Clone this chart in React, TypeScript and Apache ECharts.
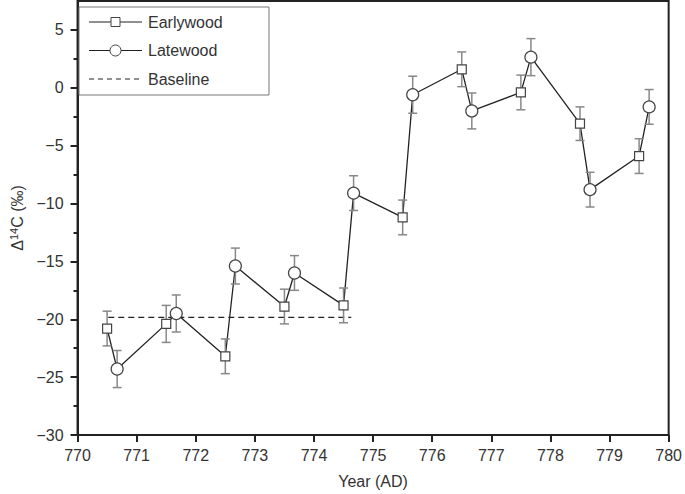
import React, { useEffect, useRef } from "react";
import * as echarts from "echarts";

const earlyYears = [770.5, 771.5, 772.5, 773.5, 774.5, 775.5, 776.5, 777.5, 778.5, 779.5];
const earlyValues = [-20.8, -20.4, -23.2, -18.9, -18.8, -11.2, 1.6, -0.4, -3.1, -5.9];
const earlyErrors = [1.5, 1.6, 1.5, 1.5, 1.5, 1.5, 1.5, 1.5, 1.45, 1.5];

const lateYears = [770.67, 771.67, 772.67, 773.67, 774.67, 775.67, 776.67, 777.67, 778.67, 779.67];
const lateValues = [-24.3, -19.5, -15.4, -16.0, -9.1, -0.6, -2.0, 2.65, -8.8, -1.65];
const lateErrors = [1.6, 1.6, 1.55, 1.5, 1.5, 1.6, 1.55, 1.6, 1.5, 1.5];

const baselineYears = [770.52, 774.63];
const baselineValue = -19.83;

const yMajorTicks = [-30, -25, -20, -15, -10, -5, 0, 5];
const yMinorTicks = [-27.5, -22.5, -17.5, -12.5, -7.5, -2.5, 2.5];

const legendNames = ["Earlywood", "Latewood", "Baseline"];

const FONT = "Liberation Sans, Arial, Helvetica, sans-serif";
const INK = "#222";

export default function App() {
  const ref = useRef<HTMLDivElement>(null);

  useEffect(() => {
    document.body.style.margin = "0";
    if (!ref.current) return;
    const chart = echarts.init(ref.current, undefined, { renderer: "svg" });

    const early = earlyYears.map((x, i) => [x, earlyValues[i]]);
    const late = lateYears.map((x, i) => [x, lateValues[i]]);
    const combined = [...early, ...late].sort((a, b) => a[0] - b[0]);
    const errData = [
      ...earlyYears.map((x, i) => [x, earlyValues[i] - earlyErrors[i], earlyValues[i] + earlyErrors[i]]),
      ...lateYears.map((x, i) => [x, lateValues[i] - lateErrors[i], lateValues[i] + lateErrors[i]]),
    ];

    const lx = 79, ly = 7, lw = 190, lh = 88;
    const rowY = [22, 50.5, 79];
    const legendGraphic: any[] = [
      { type: "rect", shape: { x: lx, y: ly, width: lw, height: lh }, style: { fill: "#fff", stroke: "#777", lineWidth: 1 }, z: 100 },
    ];
    legendNames.forEach((name, i) => {
      const y = rowY[i];
      legendGraphic.push({
        type: "line",
        shape: { x1: 89, y1: y, x2: 142, y2: y },
        style: { stroke: INK, lineWidth: 1.2, lineDash: i === 2 ? [5, 4] : null },
        z: 101,
      });
      if (i === 0) {
        legendGraphic.push({ type: "rect", shape: { x: 111, y: y - 4.5, width: 9, height: 9 }, style: { fill: "#fff", stroke: "#444", lineWidth: 1 }, z: 102 });
      } else if (i === 1) {
        legendGraphic.push({ type: "circle", shape: { cx: 115.5, cy: y, r: 5.5 }, style: { fill: "#fff", stroke: "#444", lineWidth: 1 }, z: 102 });
      }
      legendGraphic.push({
        type: "text",
        x: 148,
        y,
        style: { text: name, font: `16px ${FONT}`, fill: "#333", verticalAlign: "middle", align: "left" },
        z: 102,
      });
    });

    chart.setOption({
      animation: false,
      backgroundColor: "#fff",
      textStyle: { fontFamily: FONT },
      grid: { left: 72, right: 14, top: 1, bottom: 54, show: true, borderColor: INK, borderWidth: 2, containLabel: false },
      xAxis: {
        type: "value",
        min: 770,
        max: 780,
        interval: 1,
        name: "Year (AD)",
        nameLocation: "middle",
        nameGap: 38,
        nameTextStyle: { fontSize: 16, color: "#333", fontFamily: FONT },
        axisLine: { show: true, onZero: false, lineStyle: { color: INK, width: 2 } },
        axisTick: { show: true, inside: false, length: 7, lineStyle: { color: INK, width: 2 } },
        axisLabel: { fontSize: 16, color: "#333", margin: 12, fontFamily: FONT },
        splitLine: { show: false },
      },
      yAxis: [
        {
          type: "value",
          min: -30,
          max: 7.5,
          interval: 5,
          name: "Δ{sup|14}C (‰)",
          nameLocation: "middle",
          nameRotate: 90,
          nameGap: 47,
          nameTextStyle: {
            fontSize: 16,
            color: "#333",
            fontFamily: FONT,
            rich: { sup: { fontSize: 11, verticalAlign: "top", padding: [0, 0, 8, 0], color: "#333", fontFamily: FONT } },
          },
          axisLine: { show: true, onZero: false, lineStyle: { color: INK, width: 2 } },
          axisTick: { show: true, inside: false, length: 7, customValues: yMajorTicks, lineStyle: { color: INK, width: 2 } },
          axisLabel: {
            fontSize: 16,
            color: "#333",
            margin: 14,
            fontFamily: FONT,
            customValues: yMajorTicks,
            formatter: (v: number) => (v < 0 ? "\u2212" + Math.abs(v) : String(v)),
          },
          splitLine: { show: false },
        },
        {
          type: "value",
          min: -30,
          max: 7.5,
          interval: 2.5,
          position: "left",
          offset: 0,
          axisLine: { show: true, onZero: false, lineStyle: { color: INK, width: 2 } },
          axisTick: { show: true, inside: false, length: 4, customValues: yMinorTicks, lineStyle: { color: INK, width: 2 } },
          axisLabel: { show: false },
          splitLine: { show: false },
        },
      ],
      series: [
        {
          name: "connect",
          type: "line",
          data: combined,
          symbol: "none",
          lineStyle: { color: INK, width: 1.3 },
          z: 2,
          silent: true,
        },
        {
          name: "Baseline",
          type: "line",
          data: baselineYears.map((x) => [x, baselineValue]),
          symbol: "none",
          lineStyle: { color: INK, width: 1.3, type: [6, 4] },
          z: 2,
          silent: true,
        },
        {
          name: "errors",
          type: "custom",
          data: errData,
          z: 3,
          silent: true,
          renderItem: (params: any, api: any) => {
            const x = api.value(0);
            const lo = api.coord([x, api.value(1)]);
            const hi = api.coord([x, api.value(2)]);
            const cap = 4.5;
            const style = { stroke: "#888", lineWidth: 1.5 };
            return {
              type: "group",
              children: [
                { type: "line", shape: { x1: lo[0], y1: lo[1], x2: hi[0], y2: hi[1] }, style },
                { type: "line", shape: { x1: lo[0] - cap, y1: lo[1], x2: lo[0] + cap, y2: lo[1] }, style },
                { type: "line", shape: { x1: hi[0] - cap, y1: hi[1], x2: hi[0] + cap, y2: hi[1] }, style },
              ],
            };
          },
        },
        {
          name: "Earlywood",
          type: "scatter",
          data: early,
          symbol: "rect",
          symbolSize: 9,
          itemStyle: { color: "#fff", borderColor: "#444", borderWidth: 1.2, opacity: 1 },
          z: 4,
        },
        {
          name: "Latewood",
          type: "scatter",
          data: late,
          symbol: "circle",
          symbolSize: 12,
          itemStyle: { color: "#fff", borderColor: "#444", borderWidth: 1.2, opacity: 1 },
          z: 4,
        },
      ],
      graphic: legendGraphic,
    });

    return () => chart.dispose();
  }, []);

  return <div ref={ref} style={{ width: 685, height: 494 }} />;
}
